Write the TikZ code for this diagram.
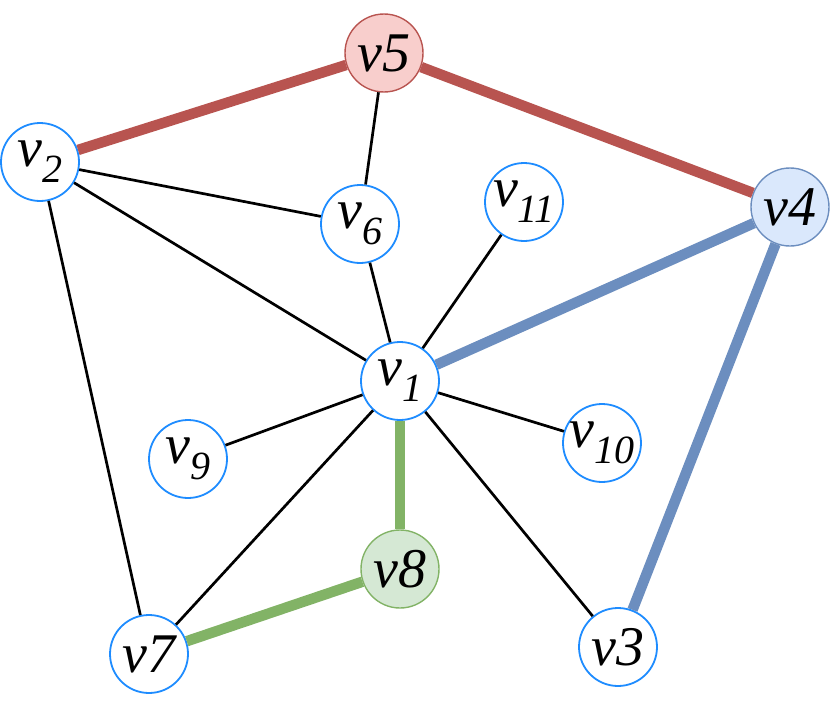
\documentclass[tikz,border=0pt]{standalone}
\usepackage{fontspec}
\setmainfont{Liberation Serif}
\definecolor{nodeblue}{RGB}{30,140,255}
\definecolor{redfill}{HTML}{F8CECC}
\definecolor{redline}{HTML}{B85450}
\definecolor{bluefill}{HTML}{DAE8FC}
\definecolor{blueline}{HTML}{6C8EBF}
\definecolor{greenfill}{HTML}{D5E8D4}
\definecolor{greenline}{HTML}{82B366}
\newcommand{\vsub}[1]{v\raisebox{-16pt}{\fontsize{40}{40}\selectfont #1}}
\tikzset{
  vert/.style={circle, minimum size=78pt, inner sep=0pt, draw=nodeblue, line width=1.8pt, fill=white,
    font=\fontsize{56}{56}\selectfont\itshape},
  redv/.style={vert, draw=redline, fill=redfill, line width=1.4pt},
  bluev/.style={vert, draw=blueline, fill=bluefill, line width=1.4pt},
  greenv/.style={vert, draw=greenline, fill=greenfill, line width=1.4pt},
  thin edge/.style={draw=black, line width=2.7pt},
  red edge/.style={draw=redline, line width=10.5pt},
  blue edge/.style={draw=blueline, line width=10.5pt},
  green edge/.style={draw=greenline, line width=10.5pt},
}
\begin{document}
\begin{tikzpicture}[x=1pt,y=-1pt]
\useasboundingbox (0,0) rectangle (830,709);
\node[redv]   (v5)  at (384,53)  {v5};
\node[vert]   (v2)  at (40,162)  {\vsub{2}};
\node[vert]   (v6)  at (360,224) {\vsub{6}};
\node[vert]   (v11) at (524,202) {\vsub{11}};
\node[bluev]  (v4)  at (790,207) {v4};
\node[vert]   (v1)  at (400,381) {\vsub{1}};
\node[vert]   (v9)  at (188,459) {\vsub{9}};
\node[vert]   (v10) at (602,443) {\vsub{10}};
\node[greenv] (v8)  at (400,569) {v8};
\node[vert]   (v7)  at (149,654) {v7};
\node[vert]   (v3)  at (618,647) {v3};

\draw[red edge] (v2) -- (v5);
\draw[red edge] (v5) -- (v4);
\draw[blue edge] (v4) -- (v1);
\draw[blue edge] (v4) -- (v3);
\draw[green edge] (v1) -- (v8);
\draw[green edge] (v8) -- (v7);
\draw[thin edge] (v5) -- (v6);
\draw[thin edge] (v2) -- (v6);
\draw[thin edge] (v2) -- (v1);
\draw[thin edge] (v2) -- (v7);
\draw[thin edge] (v6) -- (v1);
\draw[thin edge] (v11) -- (v1);
\draw[thin edge] (v1) -- (v9);
\draw[thin edge] (v1) -- (v10);
\draw[thin edge] (v1) -- (v7);
\draw[thin edge] (v1) -- (v3);
\end{tikzpicture}
\end{document}
